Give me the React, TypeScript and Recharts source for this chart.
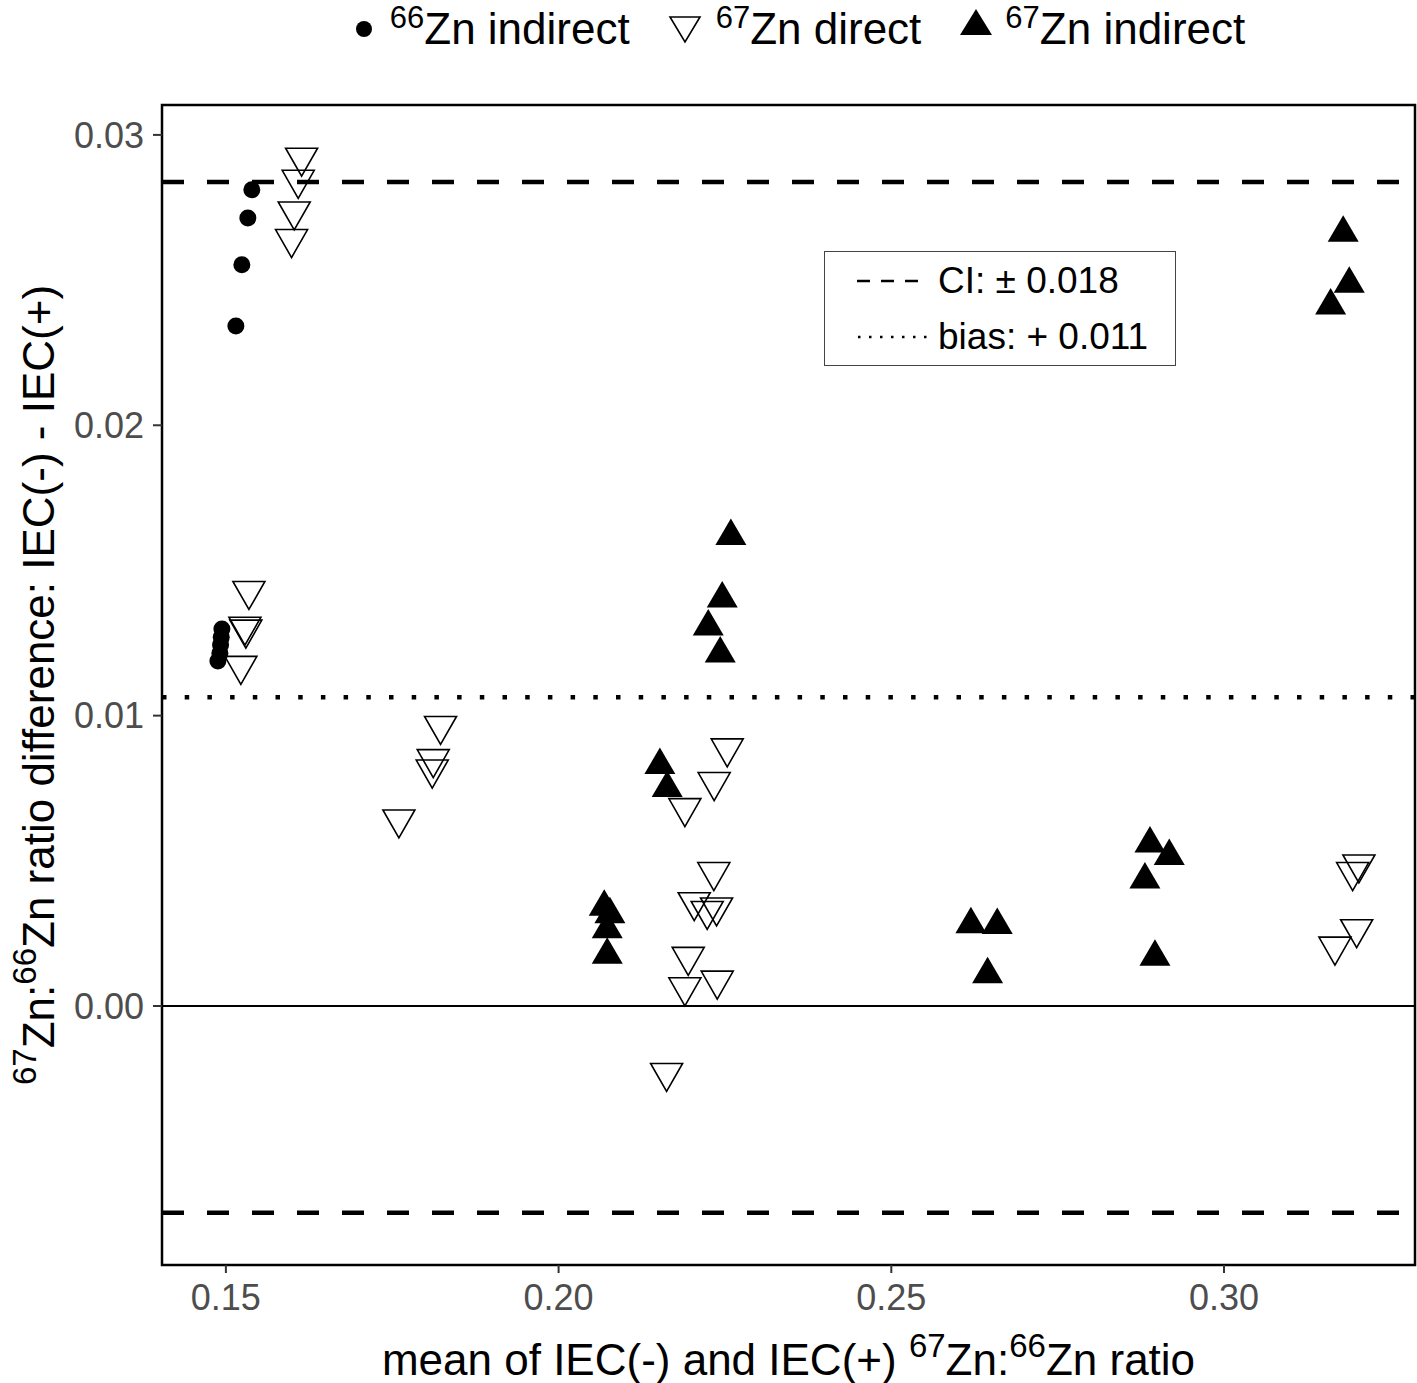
import { ScatterChart, Scatter, XAxis, YAxis, ReferenceLine, ReferenceArea } from "recharts";

// [mean ratio, difference]
const zn66Indirect = [
  [0.1539, 0.02811],
  [0.1533, 0.02714],
  [0.1524, 0.02553],
  [0.1515, 0.02342],
  [0.1494, 0.01298],
  [0.1493, 0.0127],
  [0.1492, 0.01243],
  [0.1491, 0.01215],
  [0.1488, 0.01188],
];

const zn67Direct = [
  [0.16138, 0.02922],
  [0.16087, 0.02846],
  [0.16027, 0.02737],
  [0.15987, 0.02642],
  [0.15346, 0.0143],
  [0.15286, 0.01307],
  [0.153, 0.01297],
  [0.15225, 0.01172],
  [0.18226, 0.00965],
  [0.18116, 0.00851],
  [0.18101, 0.00815],
  [0.176, 0.00643],
  [0.22534, 0.00888],
  [0.22338, 0.00772],
  [0.21898, 0.00682],
  [0.22333, 0.00462],
  [0.22038, 0.00358],
  [0.22233, 0.00328],
  [0.22374, 0.0034],
  [0.21948, 0.0017],
  [0.21898, 0.00065],
  [0.22384, 0.00088],
  [0.21623, -0.0023],
  [0.32027, 0.00488],
  [0.31933, 0.00462],
  [0.31993, 0.00265],
  [0.31667, 0.00205],
];

const zn67Indirect = [
  [0.22589, 0.01618],
  [0.22459, 0.01403],
  [0.22249, 0.01306],
  [0.22429, 0.01213],
  [0.21522, 0.00829],
  [0.21632, 0.0075],
  [0.20686, 0.00341],
  [0.20771, 0.00315],
  [0.20731, 0.00264],
  [0.20731, 0.00176],
  [0.26196, 0.00281],
  [0.26592, 0.00278],
  [0.26447, 0.00109],
  [0.28887, 0.00559],
  [0.29177, 0.00516],
  [0.28811, 0.00435],
  [0.28962, 0.00169],
  [0.31791, 0.02662],
  [0.31882, 0.02487],
  [0.31602, 0.02412],
];

const bias = 0.01063;
const ci = 0.01775;

const xTicks = [0.15, 0.2, 0.25, 0.3];
const yTicks = [0, 0.01, 0.02, 0.03];
const X_MIN = 0.1404;
const X_MAX = 0.3287;
const Y_MIN = -0.00892;
const Y_MAX = 0.03103;

const FONT = '"Liberation Sans", Arial, sans-serif';

const toPoints = (arr: number[][]) => arr.map(([x, y]) => ({ x, y }));

const Dot = (props: any) => <circle cx={props.cx} cy={props.cy} r={8.5} fill="#000" />;

const DownTri = (props: any) => {
  const { cx, cy } = props;
  return (
    <polygon
      points={`${cx - 16},${cy - 9.3} ${cx + 16},${cy - 9.3} ${cx},${cy + 18.7}`}
      fill="none"
      stroke="#000"
      strokeWidth={1.6}
    />
  );
};

const UpTri = (props: any) => {
  const { cx, cy } = props;
  return <polygon points={`${cx - 15.5},${cy + 8.8} ${cx + 15.5},${cy + 8.8} ${cx},${cy - 17.7}`} fill="#000" />;
};

const XTitle = (props: any) => {
  const vb = props.viewBox;
  return (
    <text x={vb.x + vb.width / 2} y={vb.y + 110} textAnchor="middle" fontSize={44} fill="#000" fontFamily={FONT}>
      mean of IEC(-) and IEC(+){" "}
      <tspan fontSize={33} dy={-18}>67</tspan>
      <tspan dy={18}>Zn:</tspan>
      <tspan fontSize={33} dy={-18}>66</tspan>
      <tspan dy={18}>Zn ratio</tspan>
    </text>
  );
};

const YTitle = (props: any) => {
  const vb = props.viewBox;
  const cx = 54;
  const cy = vb.y + vb.height / 2;
  return (
    <text
      x={cx}
      y={cy}
      transform={`rotate(-90 ${cx} ${cy})`}
      textAnchor="middle"
      fontSize={44}
      fill="#000"
      fontFamily={FONT}
    >
      <tspan fontSize={33} dy={-18}>67</tspan>
      <tspan dy={18}>Zn:</tspan>
      <tspan fontSize={33} dy={-18}>66</tspan>
      <tspan dy={18}>Zn ratio difference: IEC(-) - IEC(+)</tspan>
    </text>
  );
};

const Sup = ({ children }: any) => (
  <span style={{ fontSize: 31, position: "relative", top: -16 }}>{children}</span>
);

const TopLegend = () => (
  <div
    style={{
      position: "absolute",
      left: 173,
      top: 0,
      width: 1253,
      height: 58,
      display: "flex",
      justifyContent: "center",
      alignItems: "center",
      fontFamily: FONT,
      fontSize: 44,
      lineHeight: 1,
      color: "#000",
      gap: 38,
    }}
  >
    <div style={{ display: "flex", alignItems: "center" }}>
      <svg width={20} height={20} style={{ marginRight: 16 }}>
        <circle cx={10} cy={10} r={8} fill="#000" />
      </svg>
      <span style={{ whiteSpace: "nowrap" }}>
        <Sup>66</Sup>Zn indirect
      </span>
    </div>
    <div style={{ display: "flex", alignItems: "center" }}>
      <svg width={34} height={30} style={{ marginRight: 14 }}>
        <polygon points="2,3 32,3 17,28" fill="none" stroke="#000" strokeWidth={1.6} />
      </svg>
      <span style={{ whiteSpace: "nowrap" }}>
        <Sup>67</Sup>Zn direct
      </span>
    </div>
    <div style={{ display: "flex", alignItems: "center" }}>
      <svg width={34} height={30} style={{ marginRight: 12, position: "relative", top: -6 }}>
        <polygon points="1,27 33,27 17,1" fill="#000" />
      </svg>
      <span style={{ whiteSpace: "nowrap" }}>
        <Sup>67</Sup>Zn indirect
      </span>
    </div>
  </div>
);

const LineLegend = () => (
  <div
    style={{
      position: "absolute",
      left: 824,
      top: 251,
      width: 352,
      height: 115,
      boxSizing: "border-box",
      border: "1.5px solid #444",
      background: "#fff",
      fontFamily: FONT,
      fontSize: 37,
      lineHeight: 1,
      color: "#000",
      paddingLeft: 32,
      display: "flex",
      flexDirection: "column",
      justifyContent: "center",
      gap: 19,
    }}
  >
    <div style={{ display: "flex", alignItems: "center" }}>
      <svg width={70} height={10} style={{ marginRight: 11 }}>
        <line x1={0} y1={5} x2={66} y2={5} stroke="#000" strokeWidth={2.5} strokeDasharray="13 11" />
      </svg>
      <span>CI: ± 0.018</span>
    </div>
    <div style={{ display: "flex", alignItems: "center" }}>
      <svg width={70} height={10} style={{ marginRight: 11 }}>
        <line x1={1} y1={5} x2={70} y2={5} stroke="#000" strokeWidth={2.5} strokeDasharray="2.5 8.5" />
      </svg>
      <span>bias: + 0.011</span>
    </div>
  </div>
);

const App = () => {
  return (
    <div style={{ position: "absolute", left: 0, top: 0, width: 1417, height: 1383, background: "#fff" }}>
      <ScatterChart width={1417} height={1383} margin={{ top: 105, right: 2, bottom: 0, left: 0 }}>
        <XAxis
          type="number"
          dataKey="x"
          domain={[X_MIN, X_MAX]}
          ticks={xTicks}
          allowDataOverflow
          height={118}
          axisLine={false}
          tickSize={8}
          tickMargin={11}
          tickLine={{ stroke: "#333", strokeWidth: 2 }}
          tick={{ fill: "#4d4d4d", fontSize: 36, fontFamily: FONT }}
          tickFormatter={(v: number) => v.toFixed(2)}
          label={(p: any) => <XTitle {...p} />}
        />
        <YAxis
          type="number"
          dataKey="y"
          domain={[Y_MIN, Y_MAX]}
          ticks={yTicks}
          allowDataOverflow
          width={162}
          axisLine={false}
          tickSize={9}
          tickMargin={9}
          tickLine={{ stroke: "#333", strokeWidth: 2 }}
          tick={{ fill: "#4d4d4d", fontSize: 36, fontFamily: FONT }}
          tickFormatter={(v: number) => v.toFixed(2)}
          label={(p: any) => <YTitle {...p} />}
        />
        <ReferenceLine y={0} stroke="#000" strokeWidth={2} />
        <ReferenceLine y={bias + ci} stroke="#000" strokeWidth={4.5} strokeDasharray="22 23" />
        <ReferenceLine y={bias - ci} stroke="#000" strokeWidth={4.5} strokeDasharray="22 23" />
        <ReferenceLine y={bias} stroke="#000" strokeWidth={4.5} strokeDasharray="4.5 18.2" />
        <Scatter data={toPoints(zn66Indirect)} shape={Dot} isAnimationActive={false} />
        <Scatter data={toPoints(zn67Direct)} shape={DownTri} isAnimationActive={false} />
        <Scatter data={toPoints(zn67Indirect)} shape={UpTri} isAnimationActive={false} />
        <ReferenceArea
          x1={X_MIN}
          x2={X_MAX}
          y1={Y_MIN}
          y2={Y_MAX}
          fill="none"
          fillOpacity={0}
          stroke="#000"
          strokeWidth={2.5}
          ifOverflow="visible"
        />
      </ScatterChart>
      <TopLegend />
      <LineLegend />
    </div>
  );
};

export default App;
